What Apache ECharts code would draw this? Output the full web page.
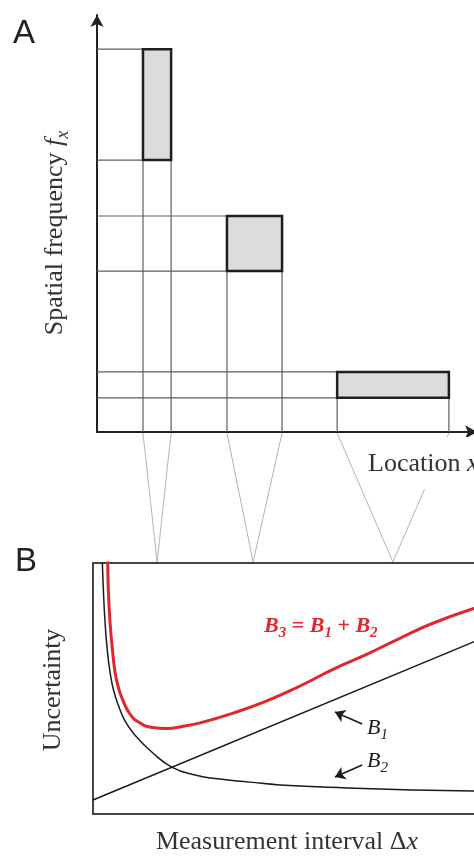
<!DOCTYPE html>
<html><head><meta charset="utf-8">
<script src="https://cdn.jsdelivr.net/npm/echarts@6/dist/echarts.min.js"></script>
<style>html,body{margin:0;padding:0;background:#fff}#c{width:474px;height:857px}</style>
</head><body><div id="c"></div>
<script>
// Panel A: time-frequency tiles (location 0-100, spatial frequency 0-100)
const tileLocStart = [12.1, 34.2, 63.2];
const tileLocEnd   = [19.5, 48.7, 92.6];
const tileFreqLow  = [65.2, 38.6, 8.2];
const tileFreqHigh = [91.8, 51.8, 14.4];
// Panel B: measurement interval each tile maps to
const intervalOfTile = [16.7, 41.7, 78.1];
// Panel B curves: [measurement interval, uncertainty]
const b1Points = [[0, 5.6], [100, 69.1]];
const b2Points = [[2.42, 101.2], [2.68, 90.0], [3.13, 76.5], [3.72, 65.3], [4.43, 56.6], [5.34, 49.4],
  [6.59, 43.4], [8.33, 37.1], [10.9, 31.5], [15.3, 24.7], [20.5, 18.7], [26.6, 15.5], [31.8, 14.1],
  [40.9, 12.7], [48.7, 11.6], [66.1, 10.4], [83.3, 9.6], [100, 9.2]];
const b3Points = [[3.83, 101.2], [3.98, 90.0], [4.43, 76.5], [5.08, 65.3], [5.73, 56.6], [6.51, 51.0],
  [7.55, 46.2], [9.64, 39.8], [12.2, 36.3], [15.4, 34.5], [19.3, 34.1], [23.2, 34.9], [27.9, 36.3],
  [36.5, 40.2], [45.3, 45.1], [53.9, 51.0], [62.5, 57.6], [71.4, 63.7], [79.9, 70.0], [88.5, 76.0],
  [100, 82.3]];
const b1Arrow = [[70.1, 35.9], [63.0, 40.6]];
const b2Arrow = [[70.1, 19.5], [63.0, 14.7]];

const chart = echarts.init(document.getElementById('c'), null, {renderer: 'canvas'});

function renderTile(params, api) {
  const x0 = api.value(0), x1 = api.value(1), y0 = api.value(2), y1 = api.value(3);
  const o = api.coord([0, 0]);
  const a = api.coord([x0, y1]);
  const b = api.coord([x1, y0]);
  const gl = {stroke: '#5e5e5e', lineWidth: 1.2};
  return {type: 'group', children: [
    {type: 'line', shape: {x1: o[0], y1: a[1], x2: a[0], y2: a[1]}, style: gl},
    {type: 'line', shape: {x1: o[0], y1: b[1], x2: a[0], y2: b[1]}, style: gl},
    {type: 'line', shape: {x1: a[0], y1: o[1], x2: a[0], y2: b[1]}, style: gl},
    {type: 'line', shape: {x1: b[0], y1: o[1], x2: b[0], y2: b[1]}, style: gl},
    {type: 'rect', shape: {x: a[0], y: a[1], width: b[0] - a[0], height: b[1] - a[1]},
      style: {fill: '#dcdcdc', stroke: '#1e1e1e', lineWidth: 2.5}}
  ]};
}

const hidden = {axisLine: {show: false}, axisTick: {show: false}, axisLabel: {show: false}, splitLine: {show: false}};
const arrowAxis = {
  axisLine: {show: true, symbol: ['none', 'arrow'], symbolSize: [10, 12], lineStyle: {color: '#222', width: 2}},
  axisTick: {show: false}, axisLabel: {show: false}, splitLine: {show: false}
};

const option = {
  animation: false,
  backgroundColor: '#fff',
  grid: [
    {left: 97, top: 15, width: 380, height: 417, outerBoundsMode: 'none', containLabel: false},
    {left: 93, top: 563, width: 384, height: 251, show: true, borderColor: '#444', borderWidth: 2,
      backgroundColor: 'transparent', outerBoundsMode: 'none', containLabel: false}
  ],
  xAxis: [
    Object.assign({type: 'value', gridIndex: 0, min: 0, max: 100}, arrowAxis),
    Object.assign({type: 'value', gridIndex: 1, min: 0, max: 100}, hidden)
  ],
  yAxis: [
    Object.assign({type: 'value', gridIndex: 0, min: 0, max: 100}, arrowAxis),
    Object.assign({type: 'value', gridIndex: 1, min: 0, max: 100}, hidden)
  ],
  series: [
    {type: 'custom', xAxisIndex: 0, yAxisIndex: 0, renderItem: renderTile, clip: false,
      encode: {x: [0, 1], y: [2, 3]},
      data: tileLocStart.map((v, i) => [v, tileLocEnd[i], tileFreqLow[i], tileFreqHigh[i]])},
    {type: 'line', name: 'B1', xAxisIndex: 1, yAxisIndex: 1, data: b1Points, showSymbol: false,
      lineStyle: {color: '#1a1a1a', width: 1.5}, clip: true,
      markLine: {silent: true, symbol: ['none', 'arrow'], symbolSize: 10, label: {show: false},
        lineStyle: {color: '#1a1a1a', width: 1.6, type: 'solid'},
        data: [
          [{coord: b1Arrow[0]}, {coord: b1Arrow[1]}],
          [{coord: b2Arrow[0]}, {coord: b2Arrow[1]}]
        ]}},
    {type: 'line', name: 'B2', xAxisIndex: 1, yAxisIndex: 1, data: b2Points, showSymbol: false,
      smooth: 0.5, lineStyle: {color: '#1a1a1a', width: 1.5}, clip: true},
    {type: 'line', name: 'B3', xAxisIndex: 1, yAxisIndex: 1, data: b3Points, showSymbol: false,
      smooth: 0.5, lineStyle: {color: '#e0282c', width: 3}, clip: true}
  ]
};
chart.setOption(option);

const serif = '"Liberation Serif", "DejaVu Serif", serif';
const graphics = [];
tileLocStart.forEach((s, i) => {
  const t = chart.convertToPixel({gridIndex: 1}, [intervalOfTile[i], 100]);
  [s, tileLocEnd[i]].forEach(x => {
    const p = chart.convertToPixel({gridIndex: 0}, [x, 0]);
    graphics.push({type: 'line', z: 1, silent: true,
      shape: {x1: p[0], y1: p[1] + 1, x2: t[0], y2: t[1] - 1},
      style: {stroke: '#b4b4b4', lineWidth: 1}});
  });
});
graphics.push(
  {type: 'text', z: 10, x: 13, y: 34, style: {text: 'A', font: '33px "Liberation Sans", Arial, sans-serif',
    fill: '#222', align: 'left', verticalAlign: 'middle'}},
  {type: 'text', z: 10, x: 15, y: 562, style: {text: 'B', font: '33px "Liberation Sans", Arial, sans-serif',
    fill: '#222', align: 'left', verticalAlign: 'middle'}},
  {type: 'text', z: 10, x: 55, y: 233, rotation: Math.PI / 2, style: {
    text: '{n|Spatial frequency }{f|f}{s|x}', align: 'center', verticalAlign: 'middle',
    rich: {
      n: {font: '26px ' + serif, fill: '#333', lineHeight: 34},
      f: {font: 'italic 26px ' + serif, fill: '#333', lineHeight: 34},
      s: {font: 'italic 18px ' + serif, fill: '#333', lineHeight: 18, verticalAlign: 'bottom'}
    }}},
  {type: 'text', z: 10, x: 53, y: 690, rotation: Math.PI / 2, style: {
    text: 'Uncertainty', font: '26px ' + serif, fill: '#333', align: 'center', verticalAlign: 'middle'}},
  {type: 'text', z: 10, x: 364, y: 463, style: {
    text: '{n|Location }{i|x}', align: 'left', verticalAlign: 'middle',
    backgroundColor: '#fff', padding: [14, 4, 12, 4],
    rich: {n: {font: '26px ' + serif, fill: '#333'}, i: {font: 'italic 26px ' + serif, fill: '#333'}}}},
  {type: 'text', z: 10, x: 287, y: 842, style: {
    text: '{n|Measurement interval Δ}{i|x}', align: 'center', verticalAlign: 'middle',
    rich: {n: {font: '26px ' + serif, fill: '#333'}, i: {font: 'italic 26px ' + serif, fill: '#333'}}}},
  {type: 'text', z: 10, x: 264, y: 626, style: {
    text: '{b|B}{s|3}{o| = }{b|B}{s|1}{o| + }{b|B}{s|2}', align: 'left', verticalAlign: 'middle',
    rich: {
      b: {font: 'italic bold 22px ' + serif, fill: '#e0282c', lineHeight: 30},
      o: {font: 'bold 22px ' + serif, fill: '#e0282c', lineHeight: 30},
      s: {font: 'italic bold 15px ' + serif, fill: '#e0282c', lineHeight: 15, verticalAlign: 'bottom'}
    }}},
  {type: 'text', z: 10, x: 367, y: 728, style: {
    text: '{b|B}{s|1}', align: 'left', verticalAlign: 'middle',
    rich: {
      b: {font: 'italic 22px ' + serif, fill: '#1a1a1a', lineHeight: 30},
      s: {font: 'italic 15px ' + serif, fill: '#1a1a1a', lineHeight: 15, verticalAlign: 'bottom'}
    }}},
  {type: 'text', z: 10, x: 367, y: 761, style: {
    text: '{b|B}{s|2}', align: 'left', verticalAlign: 'middle',
    rich: {
      b: {font: 'italic 22px ' + serif, fill: '#1a1a1a', lineHeight: 30},
      s: {font: 'italic 15px ' + serif, fill: '#1a1a1a', lineHeight: 15, verticalAlign: 'bottom'}
    }}}
);
chart.setOption({graphic: graphics});
</script></body></html>
